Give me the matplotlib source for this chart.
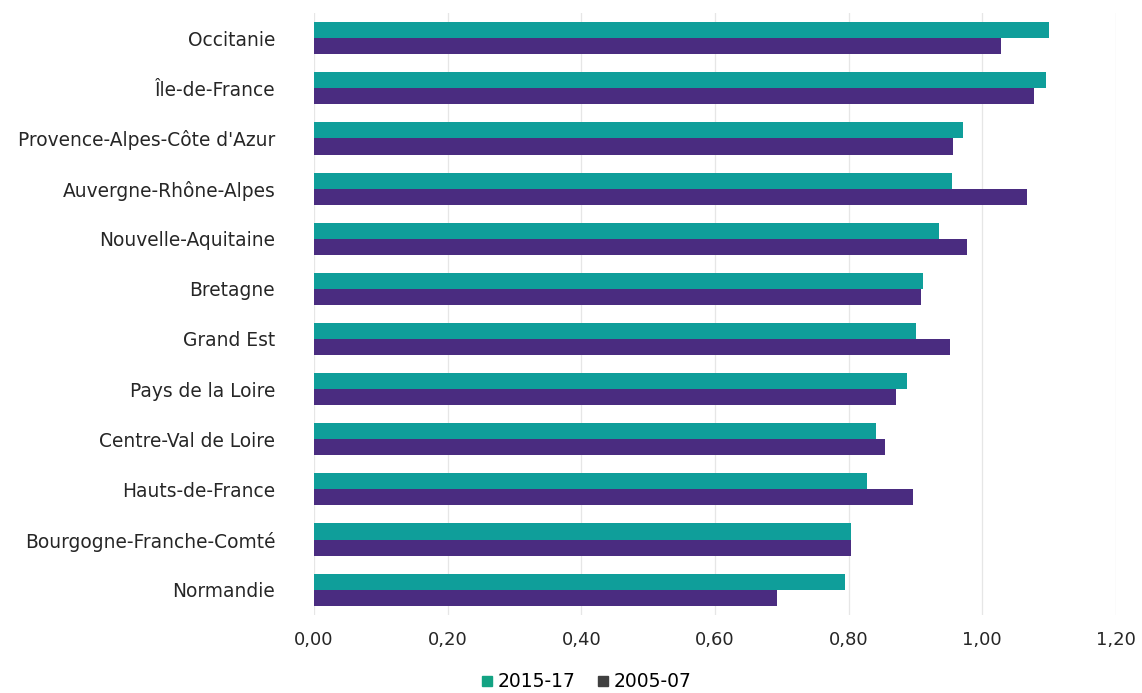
import matplotlib.pyplot as plt
import numpy as np

regions = ["Occitanie", "Île-de-France", "Provence-Alpes-Côte d'Azur",
           "Auvergne-Rhône-Alpes", "Nouvelle-Aquitaine", "Bretagne",
           "Grand Est", "Pays de la Loire", "Centre-Val de Loire",
           "Hauts-de-France", "Bourgogne-Franche-Comté", "Normandie"]
val_2015_17 = [1.10, 1.095, 0.971, 0.955, 0.935, 0.911,
               0.901, 0.887, 0.841, 0.827, 0.804, 0.795]
val_2005_07 = [1.028, 1.077, 0.956, 1.067, 0.978, 0.909,
               0.952, 0.871, 0.855, 0.897, 0.803, 0.693]
ticks = [0, 0.2, 0.4, 0.6, 0.8, 1.0, 1.2]

teal = '#0f9e9a'
violet = '#4a2c80'
txt = '#262626'

fig = plt.figure(figsize=(11.42, 6.93), dpi=100)
ax = fig.add_axes([0.275, 0.113, 0.702, 0.868])

y = np.arange(len(regions))
h = 0.32
ax.barh(y - h / 2, val_2015_17, height=h, color=teal, zorder=2)
ax.barh(y + h / 2, val_2005_07, height=h, color=violet, zorder=2)

ax.set_ylim(len(regions) - 0.5, -0.5)
ax.set_xlim(0, 1.2)
ax.set_yticks(y)
ax.set_yticklabels(regions, fontsize=13.4, color=txt)
ax.set_xticks(ticks)
ax.set_xticklabels([f'{t:.2f}'.replace('.', ',') for t in ticks], fontsize=13, color=txt)
ax.tick_params(axis='y', length=0, pad=28)
ax.tick_params(axis='x', length=0, pad=12)
ax.grid(axis='x', color='#e6e6e6', linewidth=0.9, zorder=0)
for s in ax.spines.values():
    s.set_visible(False)

# legend markers are drawn as small squares (second one dark grey as in source)
h1 = plt.Line2D([], [], marker='s', linestyle='', color='#13a383', markersize=7)
h2 = plt.Line2D([], [], marker='s', linestyle='', color='#404040', markersize=7)
fig.legend([h1, h2], ['2015-17', '2005-07'], loc='center', bbox_to_anchor=(0.512, 0.016),
           ncol=2, frameon=False, fontsize=13.5, handletextpad=0.05, columnspacing=1.0,
           handlelength=1.0)

fig.savefig('out.png', dpi=100, facecolor='white')
